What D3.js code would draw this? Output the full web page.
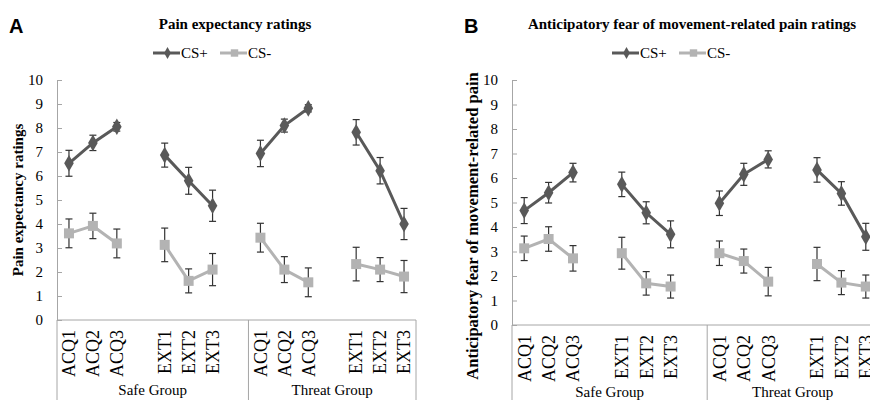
<!DOCTYPE html>
<html>
<head>
<meta charset="utf-8">
<script src="https://cdn.jsdelivr.net/npm/d3@7"></script>
<style>
  body { margin: 0; background: #fff; }
  svg { display: block; }
  .serif { font-family: "Liberation Serif", "DejaVu Serif", "Times New Roman", Times, serif; }
</style>
</head>
<body>
<svg id="chart"></svg>
<script>
const width = 870, height = 400;

// x slots as in the original spreadsheet chart (blank slots are the gaps)
const categories = ["ACQ1", "ACQ2", "ACQ3", "", "EXT1", "EXT2", "EXT3", "",
                    "ACQ1", "ACQ2", "ACQ3", "", "EXT1", "EXT2", "EXT3"];
const groupNames = ["Safe Group", "Threat Group"];
const groupStart = [0, 8];
const groupEnd = [8, 15];
const yTicks = [0, 1, 2, 3, 4, 5, 6, 7, 8, 9, 10];
const seriesNames = ["CS+", "CS-"];

// A: pain expectancy
const painCSplus     = [6.53, 7.38, 8.05, null, 6.87, 5.80, 4.76, null, 6.94, 8.10, 8.82, null, 7.82, 6.22, 4.00];
const painCSplusErr  = [0.54, 0.32, 0.18, null, 0.50, 0.56, 0.65, null, 0.55, 0.27, 0.15, null, 0.53, 0.55, 0.65];
const painCSminus    = [3.61, 3.92, 3.19, null, 3.13, 1.63, 2.10, null, 3.43, 2.10, 1.57, null, 2.33, 2.10, 1.81];
const painCSminusErr = [0.60, 0.53, 0.60, null, 0.70, 0.50, 0.67, null, 0.60, 0.54, 0.60, null, 0.70, 0.50, 0.67];

// B: anticipatory fear
const fearCSplus     = [4.67, 5.40, 6.22, null, 5.74, 4.58, 3.70, null, 4.97, 6.15, 6.76, null, 6.33, 5.37, 3.60];
const fearCSplusErr  = [0.53, 0.42, 0.38, null, 0.50, 0.45, 0.55, null, 0.50, 0.45, 0.35, null, 0.50, 0.48, 0.55];
const fearCSminus    = [3.13, 3.51, 2.72, null, 2.93, 1.70, 1.57, null, 2.93, 2.61, 1.77, null, 2.49, 1.73, 1.57];
const fearCSminusErr = [0.50, 0.50, 0.52, null, 0.65, 0.48, 0.47, null, 0.50, 0.49, 0.58, null, 0.68, 0.49, 0.47];

const darkColor = "#595959", lightColor = "#b3b3b3", axisColor = "#a6a6a6";

const svg = d3.select("#chart")
    .attr("width", width)
    .attr("height", height);

const panels = [
  {
    letter: "A", letterX: 9,
    title: "Pain expectancy ratings", titleX: 235,
    yLabel: "Pain expectancy ratings", yLabelX: 23, yLabelY: 200, yLabelSize: 15,
    left: 57, right: 416, top: 80, bottom: 320,
    legendX: 153, groupY: 395,
    plus: painCSplus, plusErr: painCSplusErr,
    minus: painCSminus, minusErr: painCSminusErr
  },
  {
    letter: "B", letterX: 464,
    title: "Anticipatory fear of movement-related pain ratings", titleX: 692,
    yLabel: "Anticipatory fear of movement-related pain", yLabelX: 478, yLabelY: 226, yLabelSize: 16.5,
    left: 512, right: 878, top: 80, bottom: 325,
    legendX: 612, groupY: 397,
    plus: fearCSplus, plusErr: fearCSplusErr,
    minus: fearCSminus, minusErr: fearCSminusErr
  }
];

panels.forEach(p => drawPanel(p));

function drawPanel(p) {
  const g = svg.append("g");

  const x = d3.scaleBand()
      .domain(d3.range(categories.length))
      .range([p.left, p.right])
      .padding(0);
  const cx = i => x(i) + x.bandwidth() / 2;

  const y = d3.scaleLinear()
      .domain([0, 10])
      .range([p.bottom, p.top]);

  // panel letter + title
  g.append("text")
      .attr("x", p.letterX).attr("y", 33)
      .attr("font-family", "Liberation Sans, Arial, sans-serif")
      .attr("font-weight", "bold").attr("font-size", 20)
      .text(p.letter);

  g.append("text")
      .attr("class", "serif")
      .attr("x", p.titleX).attr("y", 29)
      .attr("text-anchor", "middle")
      .attr("font-weight", "bold").attr("font-size", 15)
      .text(p.title);

  // legend
  const legendItems = [
    { name: seriesNames[0], color: darkColor, shape: d3.symbolDiamond, x0: p.legendX, len: 27 },
    { name: seriesNames[1], color: lightColor, shape: d3.symbolSquare, x0: p.legendX + 67, len: 27 }
  ];
  legendItems.forEach(it => {
    g.append("line")
        .attr("x1", it.x0).attr("x2", it.x0 + it.len)
        .attr("y1", 53).attr("y2", 53)
        .attr("stroke", it.color).attr("stroke-width", 3);
    g.append("path")
        .attr("transform", `translate(${it.x0 + it.len / 2 + 1},53)`)
        .attr("d", d3.symbol().type(it.shape).size(it.shape === d3.symbolSquare ? 55 : 40)())
        .attr("fill", it.color);
    g.append("text")
        .attr("class", "serif")
        .attr("x", it.x0 + it.len + 1).attr("y", 58)
        .attr("font-size", 15)
        .text(it.name);
  });

  // y axis
  const yAxis = d3.axisLeft(y)
      .tickValues(yTicks)
      .tickSize(-5)
      .tickPadding(14)
      .tickSizeOuter(0);
  const ya = g.append("g")
      .attr("transform", `translate(${p.left},0)`)
      .call(yAxis)
      .attr("font-family", null)
      .attr("font-size", null);
  ya.select(".domain").attr("stroke", axisColor);
  ya.selectAll(".tick line").attr("stroke", axisColor);
  ya.selectAll(".tick text")
      .attr("class", "serif")
      .attr("font-size", 15).attr("fill", "#000");

  g.append("text")
      .attr("class", "serif")
      .attr("transform", `translate(${p.yLabelX},${p.yLabelY}) rotate(-90)`)
      .attr("text-anchor", "middle")
      .attr("font-weight", "bold").attr("font-size", p.yLabelSize)
      .text(p.yLabel);

  // x axis line + group separators
  g.append("line")
      .attr("x1", p.left).attr("x2", p.right)
      .attr("y1", p.bottom).attr("y2", p.bottom)
      .attr("stroke", axisColor);

  const sepX = [p.left, x(groupStart[1]), p.right];
  g.selectAll(".sep")
      .data(sepX)
      .join("line")
      .attr("x1", d => d).attr("x2", d => d)
      .attr("y1", p.bottom).attr("y2", height)
      .attr("stroke", axisColor);

  g.selectAll(".cat")
      .data(categories.map((c, i) => ({ c, i })).filter(d => d.c !== ""))
      .join("text")
      .attr("class", "serif")
      .attr("transform", d => `translate(${cx(d.i)},${p.bottom + 10}) rotate(-90)`)
      .attr("text-anchor", "end")
      .attr("dy", "0.35em")
      .attr("font-size", 18)
      .text(d => d.c);

  g.selectAll(".grp")
      .data(groupNames)
      .join("text")
      .attr("class", "serif")
      .attr("x", (d, i) => (x(groupStart[i]) + (groupEnd[i] < categories.length ? x(groupEnd[i]) : p.right)) / 2)
      .attr("y", p.groupY)
      .attr("text-anchor", "middle")
      .attr("font-size", 15)
      .text(d => d);

  // series
  const series = [
    { vals: p.minus, errs: p.minusErr, color: lightColor, shape: d3.symbolSquare, size: 100 },
    { vals: p.plus, errs: p.plusErr, color: darkColor, shape: d3.symbolDiamond, size: 80 }
  ];

  const line = d3.line()
      .defined(d => d.v !== null)
      .x(d => cx(d.i))
      .y(d => y(d.v));

  series.forEach(s => {
    const pts = s.vals.map((v, i) => ({ v, i, e: s.errs[i] }));
    const valid = pts.filter(d => d.v !== null);

    g.append("path")
        .datum(pts)
        .attr("d", line)
        .attr("fill", "none")
        .attr("stroke", s.color)
        .attr("stroke-width", 3);

    const eb = g.append("g").attr("stroke", "#333").attr("stroke-width", 1.2);
    eb.selectAll(".v")
        .data(valid)
        .join("line")
        .attr("x1", d => cx(d.i)).attr("x2", d => cx(d.i))
        .attr("y1", d => y(d.v - d.e)).attr("y2", d => y(d.v + d.e));
    eb.selectAll(".capT")
        .data(valid)
        .join("line")
        .attr("x1", d => cx(d.i) - 3.5).attr("x2", d => cx(d.i) + 3.5)
        .attr("y1", d => y(d.v + d.e)).attr("y2", d => y(d.v + d.e));
    eb.selectAll(".capB")
        .data(valid)
        .join("line")
        .attr("x1", d => cx(d.i) - 3.5).attr("x2", d => cx(d.i) + 3.5)
        .attr("y1", d => y(d.v - d.e)).attr("y2", d => y(d.v - d.e));

    g.selectAll(null)
        .data(valid)
        .join("path")
        .attr("transform", d => `translate(${cx(d.i)},${y(d.v)})`)
        .attr("d", d3.symbol().type(s.shape).size(s.size)())
        .attr("fill", s.color);
  });
}
</script>
</body>
</html>
